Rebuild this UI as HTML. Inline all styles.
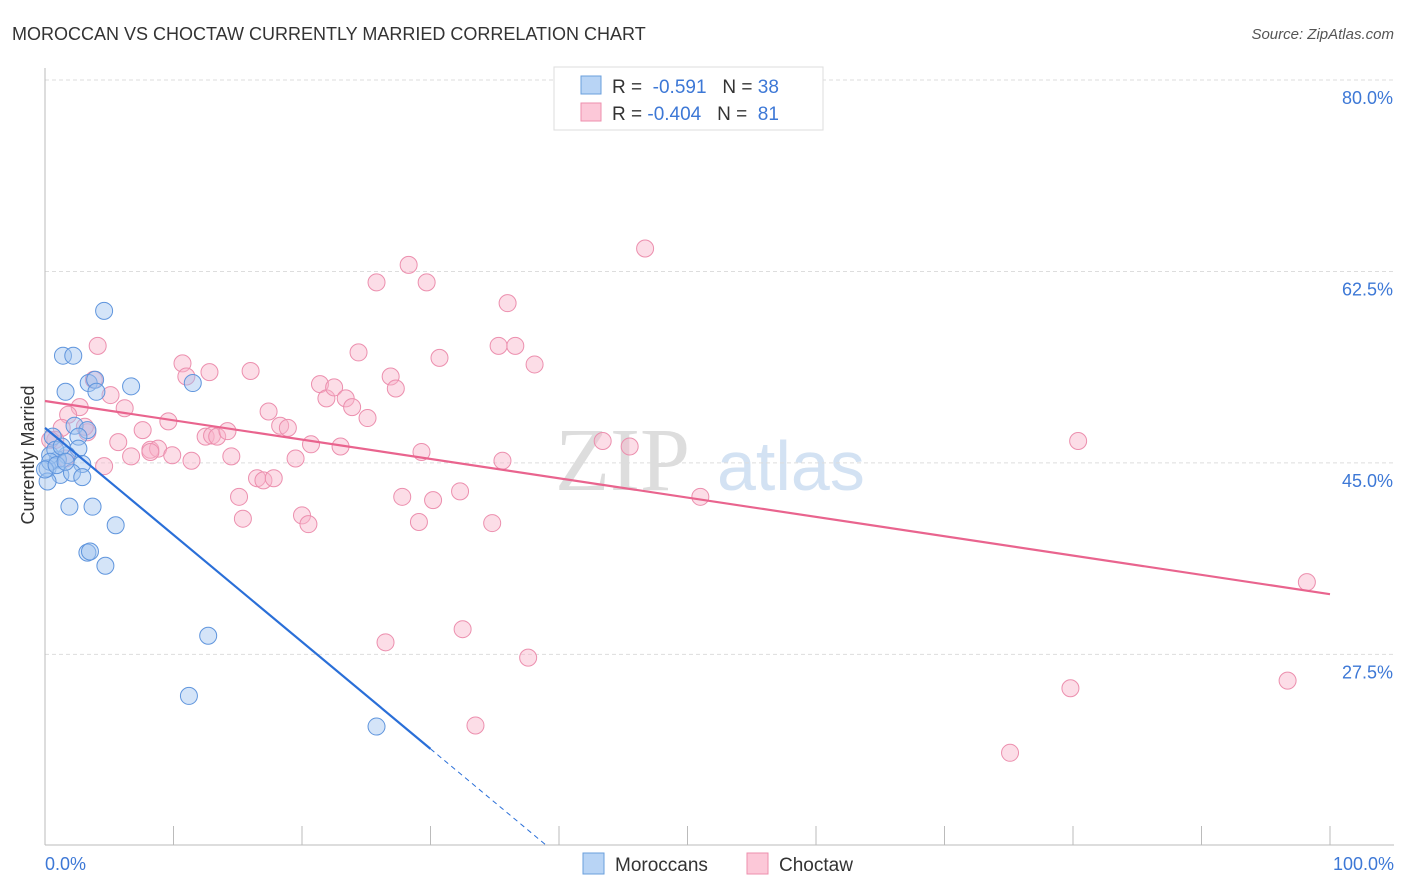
<!DOCTYPE html>
<html><head><meta charset="utf-8"><style>
body{margin:0;background:#fff;font-family:"Liberation Sans",sans-serif}
svg{display:block}
</style></head><body>
<svg id="c" width="1406" height="892">
<text x="12" y="40" font-size="18" fill="#333">MOROCCAN VS CHOCTAW CURRENTLY MARRIED CORRELATION CHART</text>
<text x="1394" y="39" font-size="15" fill="#555" text-anchor="end" font-style="italic">Source: ZipAtlas.com</text>
<text x="555" y="490" font-size="90" fill="#ddd" font-family="Liberation Serif">ZIP</text>
<text x="717" y="490" font-size="70" fill="#d3e2f3">atlas</text>
<text x="34" y="455" font-size="18" fill="#333" text-anchor="middle" transform="rotate(-90 34 455)">Currently Married</text>
<g id="grid"></g><g id="pts"></g><g id="lines"></g>
<g>
<rect x="554" y="67" width="269" height="63" fill="#fff" stroke="#ddd"/>
<rect x="581" y="76" width="20" height="18" fill="#b8d4f5" stroke="#6a9fdc"/>
<rect x="581" y="103" width="20" height="18" fill="#fcc8d8" stroke="#ee8fae"/>
<text x="612" y="93" font-size="19" fill="#333">R = <tspan fill="#3d78d6">&#160;-0.591</tspan>&#160;&#160;&#160;N = <tspan fill="#3d78d6">38</tspan></text>
<text x="612" y="120" font-size="19" fill="#333">R = <tspan fill="#3d78d6">-0.404</tspan>&#160;&#160;&#160;N = <tspan fill="#3d78d6">&#160;81</tspan></text>
</g>
<g>
<rect x="583" y="853" width="21" height="21" fill="#b8d4f5" stroke="#6a9fdc"/>
<text x="615" y="871" font-size="19" fill="#333">Moroccans</text>
<rect x="747" y="853" width="21" height="21" fill="#fcc8d8" stroke="#ee8fae"/>
<text x="779" y="871" font-size="19" fill="#333">Choctaw</text>
</g>
<text x="45" y="870" font-size="18" fill="#3d78d6">0.0%</text>
<text x="1394" y="870" font-size="18" fill="#3d78d6" text-anchor="end">100.0%</text>
</svg>
<script>
const yTicks=[80,62.5,45,27.5];
const yTickLabels=["80.0%","62.5%","45.0%","27.5%"];
const blueX=[4.6,1.4,2.2,1.6,3.4,3.9,6.7,11.5,4.0,2.3,3.3,2.6,0.6,2.6,1.7,1.0,0.4,0.2,2.9,1.2,2.1,2.9,0.2,1.9,3.7,5.5,3.3,3.5,4.7,12.7,11.2,25.8,0.8,1.3,0.4,0.0,0.9,1.6];
const blueY=[58.9,54.8,54.8,51.5,52.3,52.6,52.0,52.3,51.5,48.4,48.0,47.4,47.4,46.3,45.7,45.3,45.7,44.5,44.9,43.9,44.1,43.7,43.3,41.0,41.0,39.3,36.8,36.9,35.6,29.2,23.7,20.9,46.2,46.5,45.1,44.4,44.8,45.1];
const pinkX=[4.1,3.8,5.1,6.2,2.7,1.8,1.3,3.3,0.8,1.6,4.6,5.7,6.7,7.6,8.2,8.8,9.6,9.9,10.7,11.0,11.4,12.5,12.8,13.0,13.4,14.2,14.5,15.1,15.4,16.0,16.5,17.0,17.4,17.8,18.3,18.9,19.5,20.0,20.5,20.7,21.4,21.9,22.5,23.0,23.4,23.9,24.4,25.1,25.8,26.5,26.9,27.3,27.8,28.3,29.1,29.3,29.7,30.2,30.7,32.3,32.5,33.5,34.8,35.3,35.6,36.0,36.6,37.6,38.1,43.4,45.5,46.7,51.0,79.8,80.4,75.1,96.7,98.2,0.4,3.1,8.2];
const pinkY=[55.7,52.6,51.2,50.0,50.1,49.4,48.2,47.8,47.1,45.4,44.7,46.9,45.6,48.0,46.2,46.3,48.8,45.7,54.1,52.9,45.2,47.4,53.3,47.5,47.4,47.9,45.6,41.9,39.9,53.4,43.6,43.4,49.7,43.6,48.4,48.2,45.4,40.2,39.4,46.7,52.2,50.9,51.9,46.5,50.9,50.1,55.1,49.1,61.5,28.6,52.9,51.8,41.9,63.1,39.6,46.0,61.5,41.6,54.6,42.4,29.8,21.0,39.5,55.7,45.2,59.6,55.7,27.2,54.0,47.0,46.5,64.6,41.9,24.4,47.0,18.5,25.1,34.1,47.1,48.3,46.0];
const blueLine=[48.2,-0.978]; // intercept, slope per % x
const pinkLine=[50.66,-0.1766];
const X=v=>45+v*12.85, Y=v=>80+(80-v)*10.94;
const NS="http://www.w3.org/2000/svg";
function mk(t,a,p){const e=document.createElementNS(NS,t);for(const k in a)e.setAttribute(k,a[k]);p.appendChild(e);return e;}
const g=document.getElementById('grid');
yTicks.forEach((t,i)=>{
 const l=mk('line',{x1:45,x2:1394,y1:Y(t),y2:Y(t),stroke:'#ddd','stroke-dasharray':'4 3'},g);
 
 
 const tx=mk('text',{x:1393,y:Y(t)+24,'font-size':18,fill:'#3d78d6','text-anchor':'end'},g);
 tx.textContent=yTickLabels[i];
 
 
});
const ax=mk('line',{x1:45,x2:45,y1:68,y2:845,stroke:'#bbb'},g);


const bx=mk('line',{x1:45,x2:1394,y1:845,y2:845,stroke:'#bbb'},g);


for(let i=0;i<=10;i++){const t=mk('line',{x1:X(i*10),x2:X(i*10),y1:826,y2:845,stroke:'#bbb'},g);
 
 }
const p=document.getElementById('pts');
pinkX.forEach((x,i)=>{const c=mk('circle',{cx:X(x),cy:Y(pinkY[i]),r:8.5,fill:'rgba(248,180,202,0.45)',stroke:'#ec8fae','stroke-width':1},p);
 
 });
blueX.forEach((x,i)=>{const c=mk('circle',{cx:X(x),cy:Y(blueY[i]),r:8.5,fill:'rgba(160,196,240,0.45)',stroke:'#5f95dd','stroke-width':1},p);
 
 });
const L=document.getElementById('lines');
const f=(a,x)=>a[0]+a[1]*x;
const pl=mk('line',{x1:X(0),y1:Y(f(pinkLine,0)),x2:X(100),y2:Y(f(pinkLine,100)),stroke:'#e9648e','stroke-width':2.2},L);


const bl=mk('line',{x1:X(0),y1:Y(f(blueLine,0)),x2:X(30),y2:Y(f(blueLine,30)),stroke:'#2a6fd8','stroke-width':2.2},L);


const xe=(blueLine[0]-10)/-blueLine[1];
const bd=mk('line',{x1:X(30),y1:Y(f(blueLine,30)),x2:X(xe),y2:Y(10),stroke:'#2a6fd8','stroke-width':1,'stroke-dasharray':'5 4'},L);


</script>
</body></html>
